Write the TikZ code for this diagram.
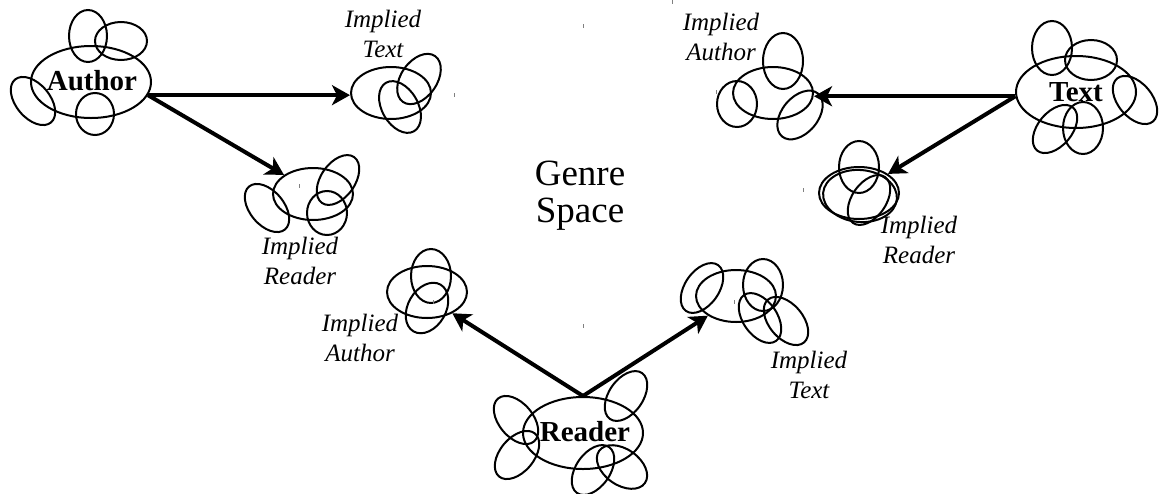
\documentclass[tikz,border=0pt]{standalone}
\usepackage{fontspec}
\setmainfont{Liberation Serif}
\usetikzlibrary{arrows.meta,shapes.geometric}

\tikzset{
  blob/.style={draw, ellipse, line width=1pt, inner sep=0pt,
               minimum width=40pt, minimum height=26pt},
  role/.style={blob, minimum width=60pt, minimum height=36pt},
  rolename/.style={font=\bfseries\fontsize{14.5}{14.5}\selectfont, inner sep=0pt},
  loop/.style={line width=1pt},
  implied/.style={font=\itshape\fontsize{12.5}{15}\selectfont, align=center},
  link/.style={-{Stealth[length=9pt,width=10pt,inset=2.5pt]}, line width=2pt},
  speck/.style={line width=0.5pt, gray},
}

\begin{document}
\begin{tikzpicture}[x=0.5pt,y=-0.5pt]
  \useasboundingbox (0,0) rectangle (1160,493);

  % the three parties
  \node[role] (author) at (91,82) {};
  \node[role] (text) at (1076,92) {};
  \node[role] (reader) at (583,433) {};
  \node[rolename] (authorName) at (92,81) {Author};
  \node[rolename] (textName) at (1076,92) {Text};
  \node[rolename] (readerName) at (585,432) {Reader};

  % what each of them implies
  \node[blob] (aText) at (391,93) {};
  \node[blob] (aReader) at (313,194) {};
  \node[blob] (tAuthor) at (773,93) {};
  \node[blob] (tReader) at (859,193) {};
  \node[blob] (rAuthor) at (427,292) {};
  \node[blob] (rText) at (736,296) {};

  % loose loops round every cluster: x/y/rx/ry/tilt
  \foreach \cx/\cy/\rx/\ry/\ang in {
      88/36/19/26/0, 121/41/26/19/0, 33/101/28/17/-50, 95/114/19/21/0,
      419/79/28/18/55, 400/107/28/18/-60,
      267/208/28/17/-50, 338/180/28/17/55, 327/213/20/22/0,
      783/61/20/28/0, 737/104/20/23/0, 800/115/28/18/50,
      1052/48/20/27/0, 1091/60/26/20/0, 1135/100/28/17/-50,
      1055/129/28/17/50, 1083/128/20/26/0,
      860/196/37/26/-5, 859/167/20/26/0, 869/200/28/17/55,
      431/276/20/27/0, 427/308/27/19/60,
      626/396/28/17/55, 516/420/28/17/-50, 517/455/28/17/50,
      593/470/28/17/55, 622/467/28/18/-35,
      702/288/28/17/55, 763/285/20/26/0, 760/318/28/17/-55,
      786/321/28/17/-50}
    \draw[loop, shift={(\cx,\cy)}, rotate=\ang] (0,0) ellipse [x radius=\rx, y radius=\ry];

  % labels
  \node[implied] (aTextLbl) at (383,34) {Implied\\Text};
  \node[implied] (aReaderLbl) at (300,261) {Implied\\Reader};
  \node[implied] (tAuthorLbl) at (721,37) {Implied\\Author};
  \node[implied] (tReaderLbl) at (919,240) {Implied\\Reader};
  \node[implied] (rAuthorLbl) at (360,338) {Implied\\Author};
  \node[implied] (rTextLbl) at (809,375) {Implied\\Text};
  \node[font=\fontsize{18.5}{18.5}\selectfont, align=center] (genre) at (580,196) {Genre\\Space};

  % arrows
  \coordinate (aOut) at (author.-13);
  \coordinate (tOut) at (text.184);
  \draw[link] (aOut) -- (aOut -| aText.west);
  \draw[link] (aOut) -- (aReader.north west);
  \draw[link] (tOut) -- (tOut -| tAuthor.east);
  \draw[link] (tOut) -- (tReader.north east);
  \draw[link] (reader.north) -- (rAuthor.-40);
  \draw[link] (reader.north) -- (rText.-145);

  % stray specks
  \foreach \sx/\sy in {454/95, 299/186, 716/92, 803/190, 433/302,
                       583/326, 583/26, 734/302, 672/2}
    \draw[speck] (\sx,\sy-2) -- (\sx,\sy+2);
\end{tikzpicture}
\end{document}
